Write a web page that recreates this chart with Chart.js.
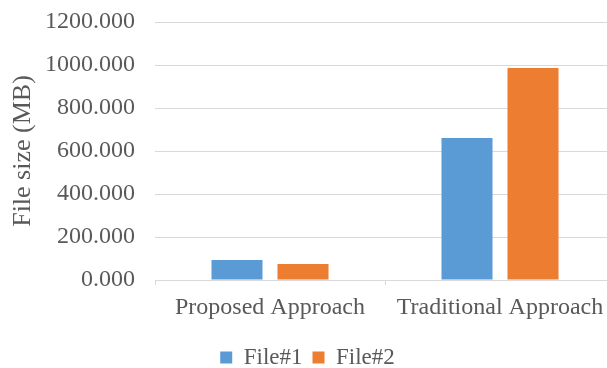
<!DOCTYPE html>
<html>
<head>
<meta charset="utf-8">
<script src="https://cdn.jsdelivr.net/npm/chart.js@4/dist/chart.umd.min.js"></script>
<style>
  html, body { margin: 0; padding: 0; background: #fff; overflow: hidden; }
  #wrap { width: 607px; height: 368px; overflow: hidden; }
</style>
</head>
<body>
<div id="wrap"><canvas id="chart" width="616" height="368"></canvas></div>
<script>
const categories = ["Proposed Approach", "Traditional Approach"];
const file1 = [93, 660];
const file2 = [74, 986];
const yTicks = [0, 200, 400, 600, 800, 1000, 1200];

const textColor = "#595959";
const family = "'Liberation Serif', serif";

new Chart(document.getElementById("chart"), {
  type: "bar",
  data: {
    labels: categories,
    datasets: [
      { label: "File#1", data: file1, backgroundColor: "#5B9BD5" },
      { label: "File#2", data: file2, backgroundColor: "#ED7D31" },
    ],
  },
  options: {
    responsive: false,
    animation: false,
    categoryPercentage: 0.574,
    barPercentage: 0.773,
    layout: { padding: { top: 22, right: 1, left: 0, bottom: -11 } },
    plugins: {
      legend: {
        position: "bottom",
        labels: {
          color: textColor,
          font: { family: family, size: 23 },
          boxWidth: 12,
          boxHeight: 12,
          padding: 10,
        },
      },
      tooltip: { enabled: false },
    },
    scales: {
      x: {
        grid: { drawOnChartArea: false, color: "#d9d9d9", tickLength: 5 },
        border: { color: "#d9d9d9" },
        ticks: { color: textColor, font: { family: family, size: 24 }, padding: 8 },
        afterFit: (scale) => { scale.height = 56; },
      },
      y: {
        min: 0,
        max: 1200,
        afterBuildTicks: (scale) => {
          scale.ticks = yTicks.map((v) => ({ value: v }));
        },
        grid: { color: "#d9d9d9", drawTicks: false },
        border: { display: false },
        ticks: {
          color: textColor,
          font: { family: family, size: 24 },
          padding: 20,
          callback: (v) => Number(v).toFixed(3),
        },
        title: {
          display: true,
          text: "File size (MB)",
          color: textColor,
          font: { family: family, size: 26 },
          padding: { top: 8, bottom: 0 },
        },
        afterFit: (scale) => {
          scale.width = 155;
          scale.paddingTop = 0;
          scale.paddingBottom = 0;
        },
      },
    },
  },
});
</script>
</body>
</html>
